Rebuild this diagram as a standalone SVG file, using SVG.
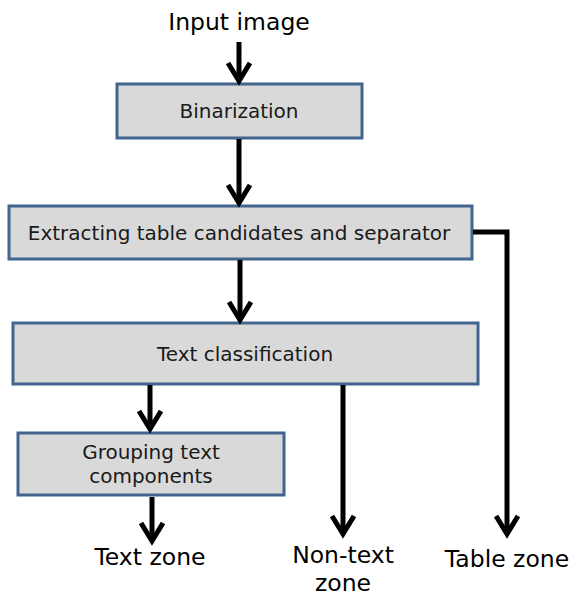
<svg xmlns="http://www.w3.org/2000/svg" width="572" height="597" viewBox="0 0 572 597">
<style>
.box{fill:#d9d9d9;stroke:#41658f;stroke-width:3}
.bt{font-family:"DejaVu Sans","Open Sans","Liberation Sans",sans-serif;font-size:20px;fill:#1a1a1a;text-anchor:middle}
.lt{font-family:"DejaVu Sans","Open Sans","Liberation Sans",sans-serif;font-size:23.5px;fill:#000;text-anchor:middle}
.ln{fill:none;stroke:#000;stroke-width:5;stroke-linejoin:miter}
</style>
<defs>
<marker id="ah" markerUnits="userSpaceOnUse" markerWidth="40" markerHeight="40" refX="0" refY="0" orient="auto" overflow="visible">
<path d="M-17,-11 L1,0 L-17,11" fill="none" stroke="#000" stroke-width="5"/>
</marker>
</defs>
<rect width="572" height="597" fill="#fff"/>
<g id="input"><text class="lt" x="239" y="30">Input image</text></g>
<g id="binarization"><rect class="box" x="117" y="84" width="245" height="54"/><text class="bt" x="239" y="118">Binarization</text></g>
<g id="extract"><rect class="box" x="9" y="206" width="463" height="53"/><text class="bt" x="239" y="240">Extracting table candidates and separator</text></g>
<g id="classification"><rect class="box" x="13" y="323" width="465" height="61"/><text class="bt" x="245" y="361">Text classification</text></g>
<g id="grouping"><rect class="box" x="18" y="433" width="266" height="62"/><text class="bt" x="151" y="459">Grouping text</text><text class="bt" x="151" y="483">components</text></g>
<g id="textzone"><text class="lt" x="150" y="565">Text zone</text></g>
<g id="nontextzone"><text class="lt" x="343" y="563">Non-text</text><text class="lt" x="343" y="591">zone</text></g>
<g id="tablezone"><text class="lt" x="507" y="567">Table zone</text></g>
<g id="connectors">
<path class="ln" d="M239,42 V80" marker-end="url(#ah)"/>
<path class="ln" d="M239,139 V202" marker-end="url(#ah)"/>
<path class="ln" d="M240,260 V319" marker-end="url(#ah)"/>
<path class="ln" d="M150,385 V428" marker-end="url(#ah)"/>
<path class="ln" d="M152,497 V540" marker-end="url(#ah)"/>
<path class="ln" d="M343,385 V533" marker-end="url(#ah)"/>
<path class="ln" d="M473,232 H507 V533" marker-end="url(#ah)"/>
</g>
</svg>
